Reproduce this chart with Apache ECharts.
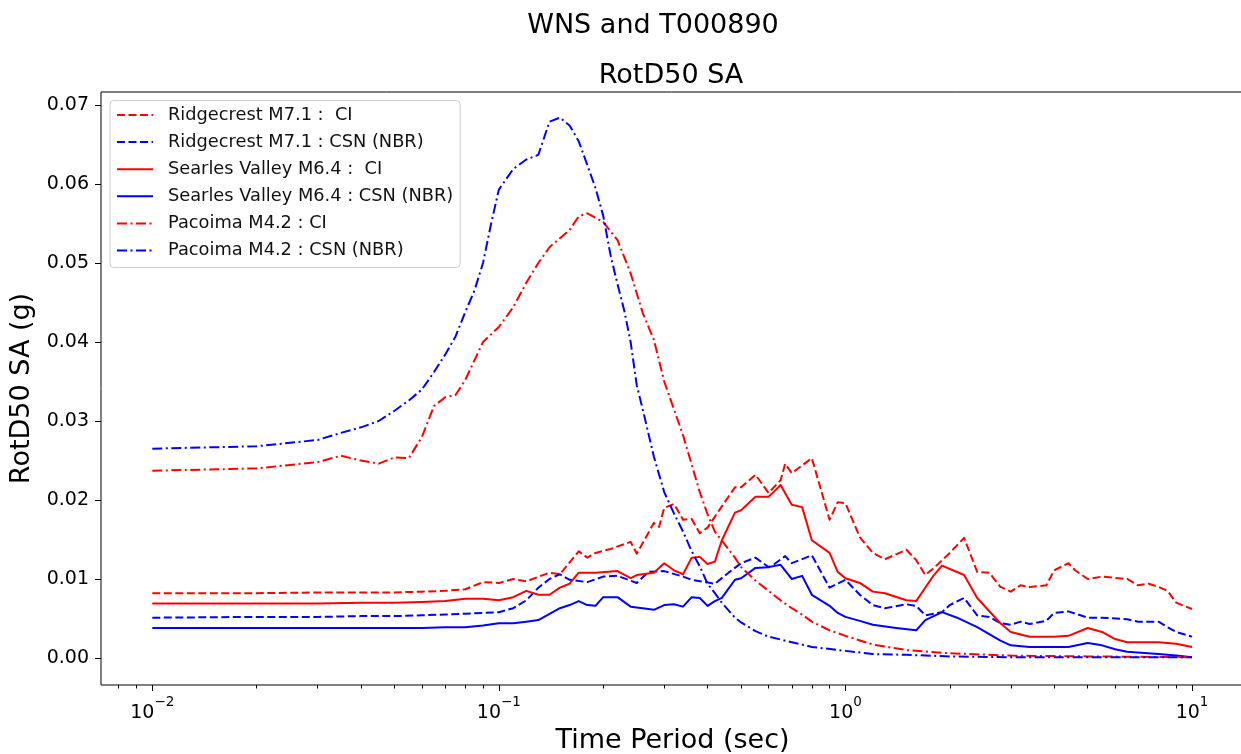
<!DOCTYPE html>
<html>
<head>
<meta charset="utf-8">
<title>WNS and T000890 – RotD50 SA</title>
<script src="https://cdn.jsdelivr.net/npm/echarts@6/dist/echarts.min.js"></script>
<style>
  html, body { margin: 0; padding: 0; background: #ffffff; overflow: hidden; }
  #chart { width: 1241px; height: 754px; }
</style>
</head>
<body>
<div id="chart"></div>
<script>
// ---- Spectral accelerations (g) versus period (sec) ----
const rcCiPeriods = [0.01,0.02,0.03,0.04,0.05,0.06,0.07,0.08,0.09,0.1,0.11,0.12,0.14,0.15,0.17,0.18,0.19,0.21,0.24,0.25,0.28,0.29,0.3,0.32,0.34,0.36,0.38,0.4,0.44,0.48,0.5,0.55,0.6,0.65,0.67,0.7,0.8,0.9,0.95,1.0,1.1,1.2,1.3,1.5,1.6,1.7,1.8,2.0,2.2,2.4,2.6,2.8,3.0,3.2,3.4,3.8,4.0,4.4,4.6,5.0,5.5,6.5,7.0,7.5,8.0,8.5,9.0,10];
const rcCiSA = [0.0082,0.0082,0.0083,0.0083,0.0083,0.0084,0.0085,0.0087,0.0096,0.0095,0.0100,0.0097,0.0108,0.0106,0.0135,0.0127,0.0133,0.0138,0.0147,0.0132,0.0171,0.0166,0.0190,0.0195,0.0175,0.0176,0.0158,0.0165,0.0192,0.0216,0.0216,0.0232,0.0209,0.0225,0.0246,0.0234,0.0253,0.0175,0.0197,0.0196,0.0153,0.0133,0.0125,0.0137,0.0124,0.0105,0.0114,0.0133,0.0152,0.0109,0.0108,0.0090,0.0084,0.0092,0.0090,0.0092,0.0111,0.0120,0.0111,0.0100,0.0103,0.0100,0.0092,0.0094,0.0090,0.0085,0.0070,0.0062];

const rcCsnPeriods = [0.01,0.02,0.03,0.04,0.05,0.06,0.07,0.08,0.09,0.1,0.11,0.12,0.13,0.14,0.15,0.16,0.18,0.2,0.22,0.25,0.27,0.3,0.34,0.36,0.42,0.46,0.5,0.55,0.6,0.62,0.67,0.7,0.8,0.9,1.0,1.1,1.2,1.3,1.5,1.6,1.7,1.9,2.0,2.2,2.4,2.6,2.8,3.0,3.2,3.4,3.8,4.0,4.4,5.0,5.5,6.5,7.0,8.0,8.5,9.0,10];
const rcCsnSA = [0.0051,0.0052,0.0052,0.0053,0.0053,0.0054,0.0055,0.0056,0.0057,0.0058,0.0063,0.0073,0.0089,0.0100,0.0106,0.0099,0.0096,0.0103,0.0104,0.0095,0.0109,0.0110,0.0103,0.0099,0.0094,0.0108,0.0120,0.0127,0.0115,0.0118,0.0129,0.0120,0.0130,0.0089,0.0099,0.0080,0.0067,0.0063,0.0068,0.0066,0.0054,0.0058,0.0067,0.0076,0.0054,0.0052,0.0044,0.0042,0.0046,0.0043,0.0047,0.0057,0.0059,0.0051,0.0051,0.0049,0.0046,0.0046,0.0039,0.0033,0.0027];

const svCiPeriods = [0.01,0.02,0.03,0.04,0.05,0.06,0.07,0.08,0.09,0.1,0.11,0.12,0.13,0.14,0.15,0.16,0.17,0.19,0.22,0.24,0.25,0.28,0.3,0.32,0.34,0.36,0.38,0.4,0.42,0.44,0.48,0.5,0.55,0.6,0.62,0.65,0.7,0.75,0.8,0.9,0.95,1.0,1.1,1.2,1.3,1.5,1.6,1.8,1.9,2.2,2.4,2.8,3.0,3.4,4.0,4.4,5.0,5.5,6.0,6.5,8.0,9.0,10];
const svCiSA = [0.0069,0.0069,0.0069,0.0070,0.0070,0.0071,0.0072,0.0075,0.0075,0.0073,0.0077,0.0085,0.0080,0.0080,0.0089,0.0094,0.0108,0.0108,0.0110,0.0101,0.0105,0.0108,0.0120,0.0111,0.0106,0.0127,0.0128,0.0119,0.0122,0.0149,0.0184,0.0187,0.0204,0.0204,0.0210,0.0219,0.0194,0.0191,0.0149,0.0133,0.0109,0.0101,0.0095,0.0084,0.0082,0.0073,0.0072,0.0105,0.0117,0.0105,0.0076,0.0044,0.0033,0.0027,0.0027,0.0028,0.0038,0.0033,0.0024,0.0020,0.0020,0.0018,0.0014];

const svCsnPeriods = [0.01,0.02,0.03,0.04,0.05,0.06,0.07,0.08,0.09,0.1,0.11,0.12,0.13,0.15,0.16,0.17,0.18,0.19,0.2,0.22,0.24,0.26,0.28,0.3,0.32,0.34,0.36,0.38,0.4,0.42,0.44,0.48,0.5,0.55,0.6,0.65,0.7,0.75,0.8,0.9,0.95,1.0,1.1,1.2,1.4,1.6,1.7,1.9,2.1,2.4,2.8,3.0,3.4,4.4,5.0,5.5,6.0,6.5,8.0,9.0,10];
const svCsnSA = [0.0038,0.0038,0.0038,0.0038,0.0038,0.0038,0.0039,0.0039,0.0041,0.0044,0.0044,0.0046,0.0048,0.0063,0.0067,0.0072,0.0067,0.0066,0.0077,0.0077,0.0065,0.0063,0.0061,0.0067,0.0068,0.0065,0.0077,0.0076,0.0066,0.0072,0.0076,0.0099,0.0101,0.0114,0.0115,0.0118,0.0100,0.0104,0.0080,0.0066,0.0057,0.0052,0.0047,0.0042,0.0038,0.0035,0.0048,0.0058,0.0051,0.0039,0.0022,0.0016,0.0014,0.0014,0.0019,0.0016,0.0011,0.0008,0.0005,0.0003,0.0001];

const pCiPeriods = [0.01,0.02,0.03,0.035,0.04,0.045,0.05,0.055,0.06,0.065,0.07,0.075,0.08,0.09,0.1,0.11,0.12,0.13,0.14,0.16,0.17,0.18,0.2,0.22,0.24,0.26,0.28,0.3,0.34,0.36,0.38,0.4,0.42,0.48,0.5,0.55,0.6,0.65,0.7,0.75,0.8,0.9,1.0,1.2,1.5,2.0,3.0,5.0,10];
const pCiSA = [0.0237,0.0240,0.0248,0.0256,0.0250,0.0246,0.0254,0.0253,0.0280,0.0319,0.0330,0.0333,0.0352,0.0400,0.0419,0.0444,0.0475,0.0500,0.0520,0.0542,0.0559,0.0563,0.0552,0.0529,0.0487,0.0437,0.0403,0.0350,0.0282,0.0245,0.0210,0.0182,0.0160,0.0127,0.0115,0.0098,0.0085,0.0073,0.0063,0.0055,0.0046,0.0035,0.0028,0.0017,0.0010,0.0006,0.0003,0.0002,0.0001];

const pCsnPeriods = [0.01,0.02,0.03,0.035,0.04,0.045,0.05,0.055,0.06,0.065,0.07,0.075,0.08,0.085,0.09,0.095,0.1,0.11,0.12,0.13,0.14,0.15,0.16,0.17,0.18,0.19,0.2,0.21,0.22,0.23,0.24,0.25,0.26,0.28,0.3,0.32,0.34,0.36,0.38,0.4,0.42,0.44,0.48,0.5,0.55,0.6,0.7,0.8,1.0,1.2,1.5,2.0,3.0,5.0,10];
const pCsnSA = [0.0265,0.0268,0.0276,0.0285,0.0292,0.0300,0.0313,0.0326,0.0340,0.0362,0.0384,0.0407,0.0438,0.0465,0.0500,0.0550,0.0593,0.0619,0.0631,0.0637,0.0679,0.0684,0.0674,0.0654,0.0624,0.0595,0.0560,0.0510,0.0473,0.0440,0.0400,0.0345,0.0315,0.0255,0.0210,0.0183,0.0160,0.0135,0.0116,0.0094,0.0082,0.0070,0.0051,0.0045,0.0034,0.0027,0.0020,0.0014,0.0009,0.0005,0.0004,0.0002,0.0001,0.0001,0.0001];

const seriesNames = [
  'Ridgecrest M7.1 :  CI',
  'Ridgecrest M7.1 : CSN (NBR)',
  'Searles Valley M6.4 :  CI',
  'Searles Valley M6.4 : CSN (NBR)',
  'Pacoima M4.2 : CI',
  'Pacoima M4.2 : CSN (NBR)'
];

// Axis ticks
const xMajorTicks = [0.01, 0.1, 1, 10];
const xMinorTicks = [0.008, 0.009,
  0.02, 0.03, 0.04, 0.05, 0.06, 0.07, 0.08, 0.09,
  0.2, 0.3, 0.4, 0.5, 0.6, 0.7, 0.8, 0.9,
  2, 3, 4, 5, 6, 7, 8, 9];
const yTicks = [0, 0.01, 0.02, 0.03, 0.04, 0.05, 0.06, 0.07];

// ---- Chart ----
const FONT = "'DejaVu Sans', sans-serif";
const RED = '#ff0000';
const BLUE = '#0000ff';
const DASHED = [8, 3.5];
const DASHDOT = [10, 3.5, 2, 3.5];

// log-x range padded by 5% of the three decades on each side
const xMin = Math.pow(10, -2.148);
const xMax = Math.pow(10, 1.150);
const yMin = -0.00342;
const yMax = 0.07165;

function lineSeries(name, periods, values, color, dash) {
  return {
    name: name,
    type: 'line',
    xAxisIndex: 0,
    yAxisIndex: 0,
    data: periods.map((p, i) => [p, values[i]]),
    symbol: 'none',
    showSymbol: false,
    animation: false,
    silent: true,
    lineStyle: { color: color, width: 2, type: dash, cap: 'butt', join: 'round' },
    itemStyle: { color: color }
  };
}

function decadeLabel(v) {
  const e = Math.round(Math.log10(v));
  const exp = e < 0 ? '\u2212' + Math.abs(e) : String(e);
  return '{b|10}{s|' + exp + '}';
}

const chart = echarts.init(document.getElementById('chart'), null, { renderer: 'canvas' });

chart.setOption({
  animation: false,
  backgroundColor: '#ffffff',
  title: [
    {
      text: 'WNS and T000890',
      left: 653, top: 12, padding: 0,
      textAlign: 'center',
      textStyle: { fontFamily: FONT, fontSize: 27, fontWeight: 'normal', color: '#000' }
    },
    {
      text: 'RotD50 SA',
      left: 671, top: 62, padding: 0,
      textAlign: 'center',
      textStyle: { fontFamily: FONT, fontSize: 27, fontWeight: 'normal', color: '#000' }
    }
  ],
  legend: {
    data: seriesNames,
    orient: 'vertical',
    left: 110, top: 100.5,
    padding: [5.5, 7, 8, 6],
    itemWidth: 36,
    itemHeight: 14,
    itemGap: 9.1,
    backgroundColor: 'rgba(255,255,255,0.8)',
    borderColor: '#cccccc',
    borderWidth: 1,
    borderRadius: 4,
    selectedMode: false,
    itemStyle: { color: 'rgba(0,0,0,0)', borderColor: 'rgba(0,0,0,0)', borderWidth: 0, opacity: 0 },
    textStyle: { fontFamily: FONT, fontSize: 17.8, color: '#111', padding: [0, 0, 0, 10] }
  },
  grid: {
    left: 101, top: 92, right: -3, bottom: 69,
    show: true,
    borderColor: '#000',
    borderWidth: 1,
    backgroundColor: 'transparent',
    outerBoundsMode: 'none',
    containLabel: false
  },
  xAxis: [
    {
      type: 'log',
      logBase: 10,
      min: xMin, max: xMax,
      position: 'bottom',
      axisLine: { show: false, onZero: false },
      splitLine: { show: false },
      minorTick: { show: false },
      axisTick: { show: true, customValues: xMajorTicks, length: 6, lineStyle: { color: '#000', width: 1 } },
      axisLabel: {
        customValues: xMajorTicks,
        margin: 10,
        formatter: decadeLabel,
        rich: {
          b: { fontFamily: FONT, fontSize: 19, color: '#000', lineHeight: 28, verticalAlign: 'bottom' },
          s: { fontFamily: FONT, fontSize: 13.5, color: '#000', lineHeight: 16, verticalAlign: 'top' }
        }
      },
      name: 'Time Period (sec)',
      nameLocation: 'middle',
      nameGap: 41,
      nameTextStyle: { fontFamily: FONT, fontSize: 27, color: '#000' }
    },
    {
      type: 'log',
      logBase: 10,
      gridIndex: 0,
      min: xMin, max: xMax,
      position: 'bottom',
      axisLine: { show: false, onZero: false },
      splitLine: { show: false },
      axisLabel: { show: false },
      axisTick: { show: true, customValues: xMinorTicks, length: 3.5, lineStyle: { color: '#000', width: 1 } }
    }
  ],
  yAxis: {
    type: 'value',
    min: yMin, max: yMax,
    axisLine: { show: false, onZero: false },
    splitLine: { show: false },
    axisTick: { show: true, customValues: yTicks, length: 6, lineStyle: { color: '#000', width: 1 } },
    axisLabel: {
      customValues: yTicks,
      margin: 12,
      fontFamily: FONT, fontSize: 19, color: '#000',
      formatter: v => v.toFixed(2)
    },
    name: 'RotD50 SA (g)',
    nameLocation: 'middle',
    nameRotate: 90,
    nameGap: 59,
    nameTextStyle: { fontFamily: FONT, fontSize: 27, color: '#000' }
  },
  series: [
    lineSeries(seriesNames[0], rcCiPeriods, rcCiSA, RED, DASHED),
    lineSeries(seriesNames[1], rcCsnPeriods, rcCsnSA, BLUE, DASHED),
    lineSeries(seriesNames[2], svCiPeriods, svCiSA, RED, 'solid'),
    lineSeries(seriesNames[3], svCsnPeriods, svCsnSA, BLUE, 'solid'),
    lineSeries(seriesNames[4], pCiPeriods, pCiSA, RED, DASHDOT),
    lineSeries(seriesNames[5], pCsnPeriods, pCsnSA, BLUE, DASHDOT)
  ]
});
</script>
</body>
</html>
